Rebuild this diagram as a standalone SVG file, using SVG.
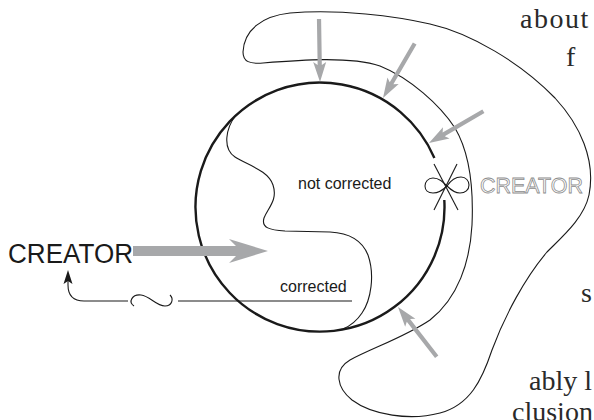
<svg xmlns="http://www.w3.org/2000/svg" xmlns:xlink="http://www.w3.org/1999/xlink" width="594" height="420" viewBox="0 0 594 420">
<style>
.thin{fill:none;stroke:#1a1a1a;stroke-width:1.1}
.thick{fill:none;stroke:#1a1a1a;stroke-width:2.4}
.garrow{fill:#a7a8aa}
.sans{font-family:"Liberation Sans",Arial,sans-serif;fill:#1a1a1a}
.serif{font-family:"Liberation Serif","Times New Roman",serif;fill:#2a2a2a;font-size:28px}
.outline{font-family:"Liberation Sans",Arial,sans-serif;fill:#fff;stroke:#8c8c8c;stroke-width:0.8;font-size:22px}
</style>
<defs>
<path id="sarrow" d="M-63,-2.1 L-17,-2.1 L-20,-6.5 L0,0 L-20,6.5 L-17,2.1 L-63,2.1 Z"/>
</defs>
<rect width="594" height="420" fill="#fff"/>

<g id="page-text">
<text class="serif" x="520" y="28" letter-spacing="1.5">about</text>
<text class="serif" x="566" y="66">f</text>
<text class="serif" x="581" y="302">s</text>
<text class="serif" x="529" y="390">ably l</text>
<text class="serif" x="512" y="421">clusion</text>
</g>

<g id="outer-region">
<path class="thin" d="M243,52 C244,30 262,16 290,13 C340,9 395,16 430,24 C470,33 520,62 555,98 C580,125 596,160 589,195 C584,218 563,236 547,252 C525,278 505,315 492,350 C482,380 470,405 440,413 C410,421 372,415 352,400 C337,388 333,370 350,360 C372,348 405,337 430,320 C458,298 470,262 472,225 C474,180 468,150 455,128 C440,105 410,78 380,66 C350,56 300,60 263,63 C250,64 243,62 243,52 Z"/>
</g>

<g id="circle">
<path class="thick" d="M444.3,200 A124.5,124.5 0 1 1 434.4,158"/>
</g>

<g id="inner-region">
<path class="thin" d="M236,115 C226,128 222,148 235,157 C247,165 268,170 273,185 C278,200 268,208 264,218 C261,228 270,230 285,231 L330,232 C350,233 362,240 368,255 C375,275 371,300 362,313 C356,322 350,326 343,329"/>
<text class="sans" x="298" y="189" font-size="16">not corrected</text>
<text class="sans" x="280" y="292" font-size="16">corrected</text>
</g>

<g id="creator-left">
<text class="sans" x="8" y="263" font-size="27" textLength="125" lengthAdjust="spacingAndGlyphs">CREATOR</text>
</g>

<g id="creator-right">
<text class="outline" x="480" y="193" textLength="103" lengthAdjust="spacingAndGlyphs">CREATOR</text>
</g>

<g id="break-mark">
<path class="thin" d="M447,186 C451,180 456,177 461,177 C466,177 469,181 469,185 C469,190 465,193 460,193 C455,193 451,190 447,186 C443,182 439,178 433,178 C428,178 425,182 425,186 C425,190 428,193 433,193 C438,193 443,190 447,186 Z"/>
<line class="thin" x1="434" y1="164" x2="458" y2="210"/>
<line class="thin" x1="457" y1="164" x2="434" y2="210"/>
</g>

<g id="connectors">
<path class="garrow" d="M133,246 L236,246 L229,239 L268,251 L229,263 L236,256 L133,256 Z"/>
<use xlink:href="#sarrow" class="garrow" transform="translate(320,82) rotate(89.1)"/>
<use xlink:href="#sarrow" class="garrow" transform="translate(383,98) rotate(120.2)"/>
<use xlink:href="#sarrow" class="garrow" transform="translate(429,143) rotate(149.7)"/>
<use xlink:href="#sarrow" class="garrow" transform="translate(398,307) rotate(232.1)"/>
<path class="thin" d="M352,301 L178,301"/>
<path class="thin" d="M134,306 C128,302 132,294 141,295 C150,296 156,306 165,306 C172,306 174,299 170,295"/>
<path class="thin" d="M128,301 L84,301 C74,301 68,296 68,285 L68,280"/>
<path fill="#1a1a1a" d="M68,270 L72.5,284 L68,281 L63.5,284 Z"/>
</g>
</svg>
